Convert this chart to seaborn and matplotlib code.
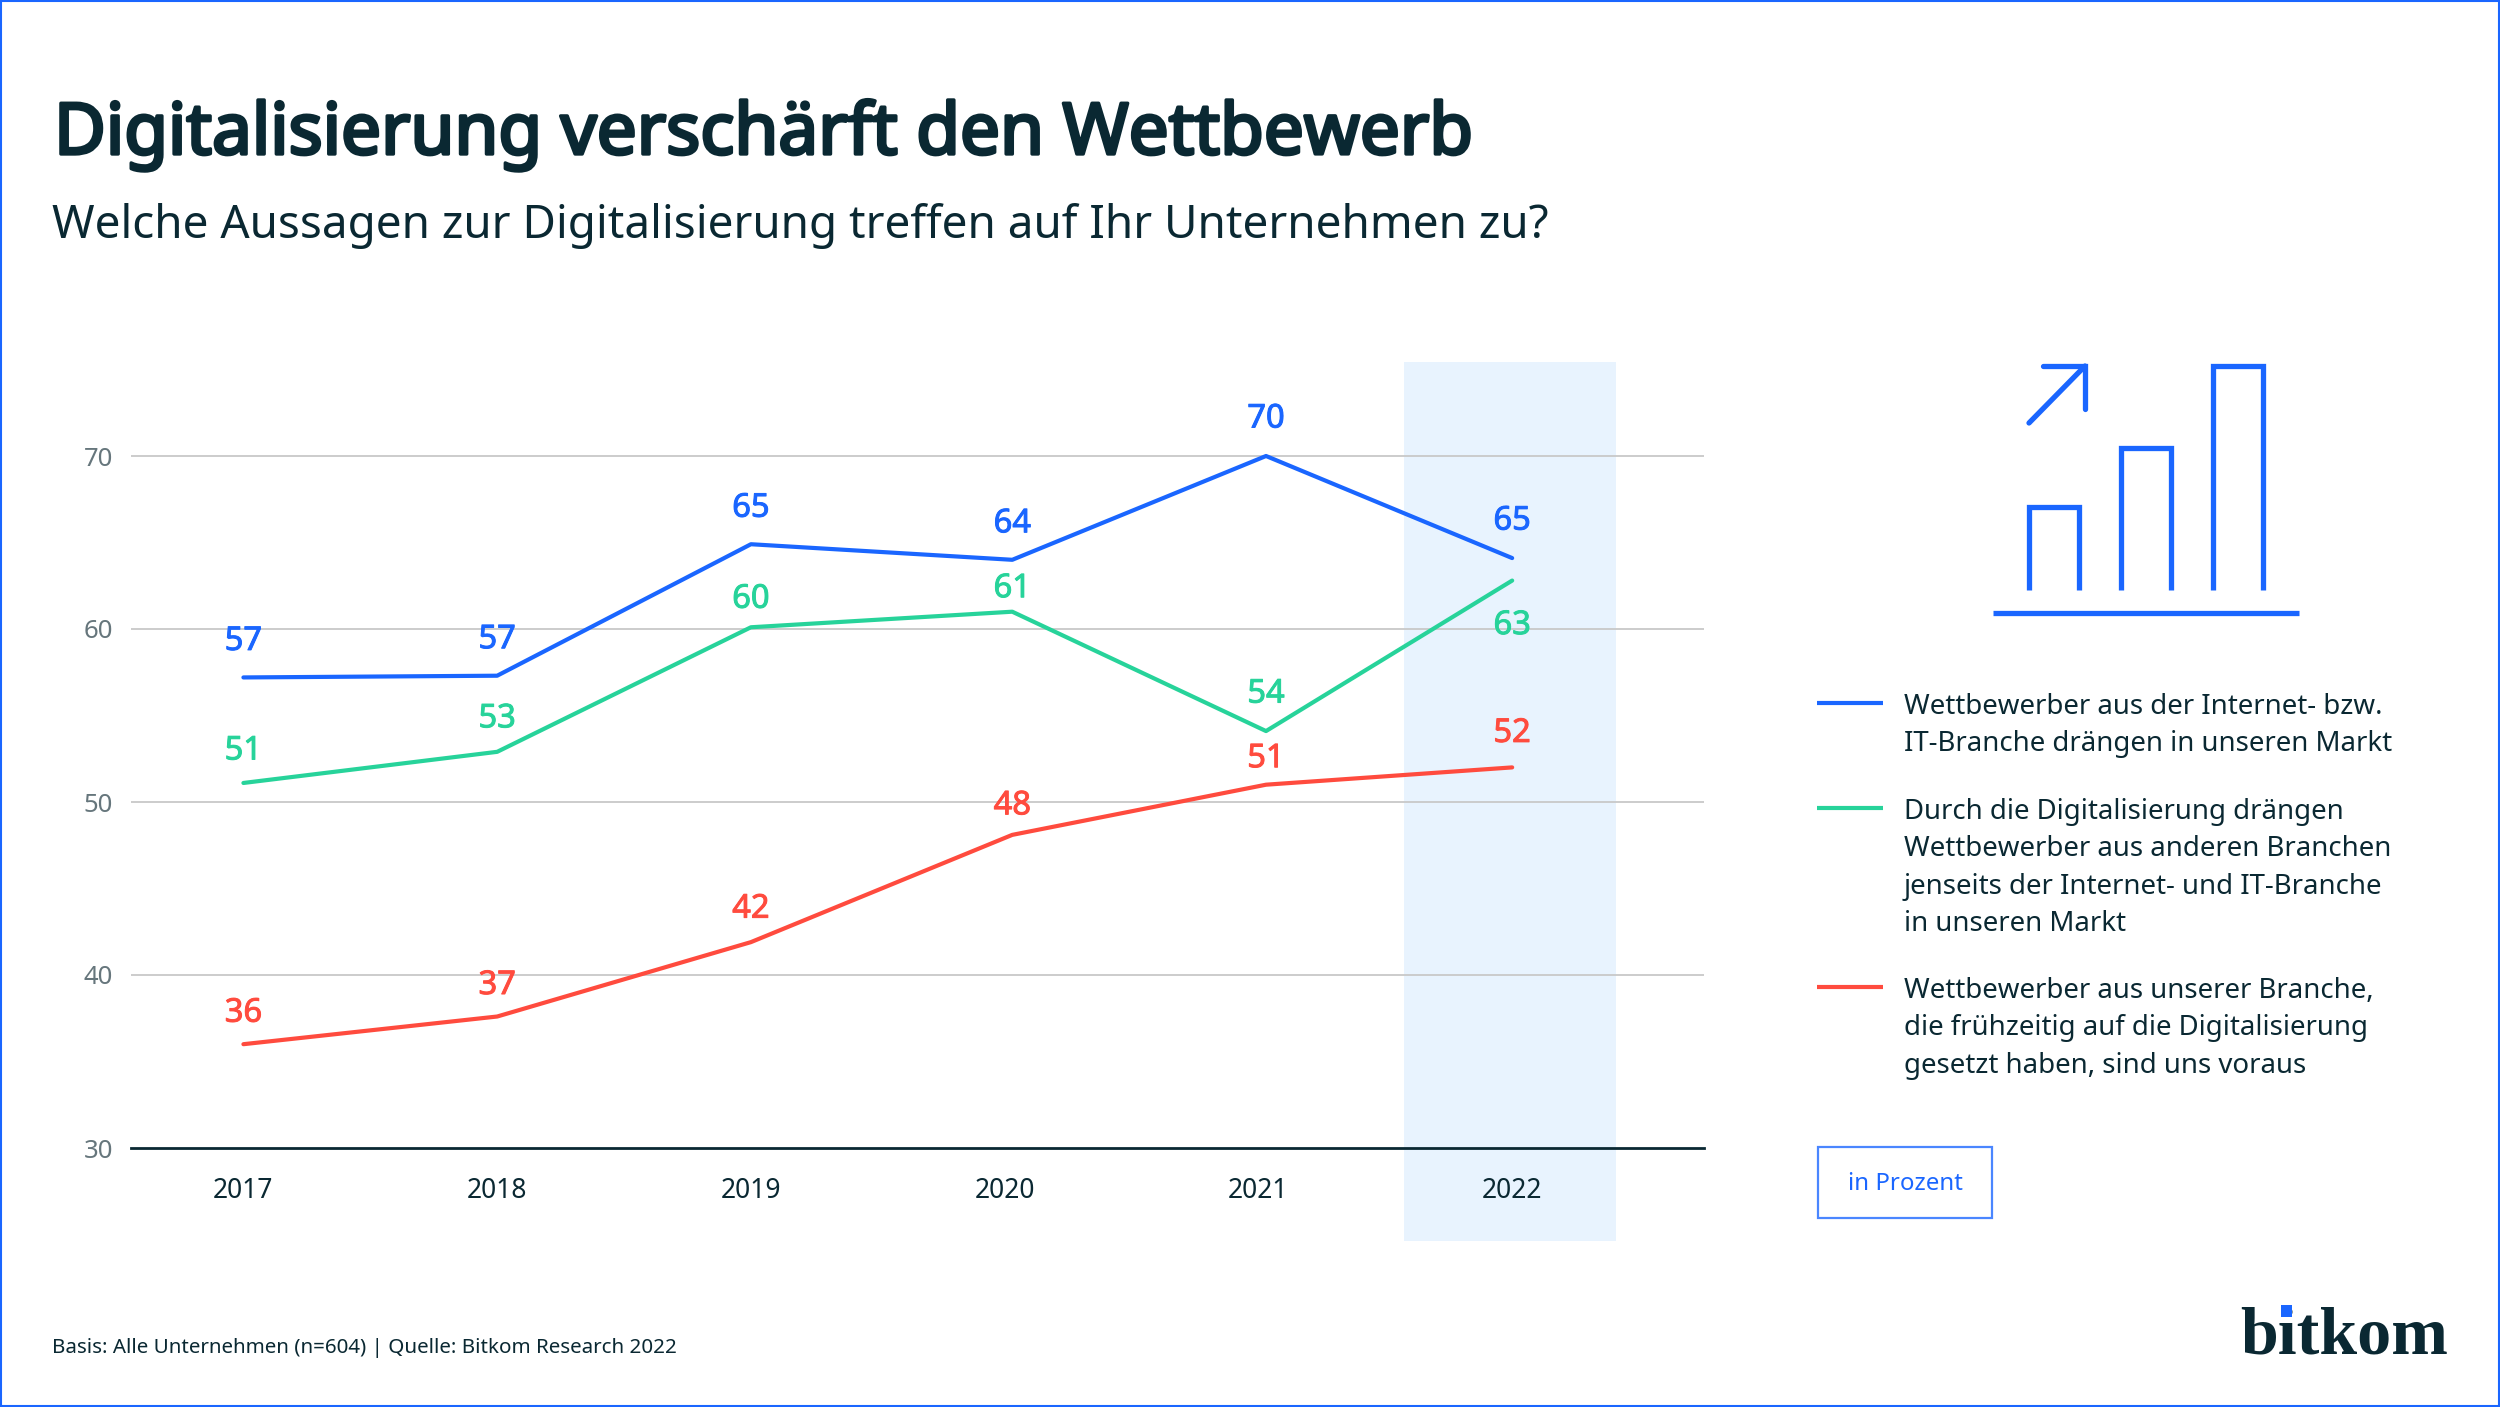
import pandas as pd
import matplotlib.pyplot as plt
import matplotlib.patches as mpatches
import matplotlib.patheffects as pe
import seaborn as sns

years = ["2017", "2018", "2019", "2020", "2021", "2022"]
# the 2020 and 2021 points sit slightly right of their tick labels in the original
point_x = [0, 1, 2, 3.03, 4.03, 5]
internet = [57.2, 57.3, 64.9, 64.0, 70.0, 64.1]
branchen = [51.1, 52.9, 60.1, 61.0, 54.1, 62.8]
voraus = [36.0, 37.6, 41.9, 48.1, 51.0, 52.0]
internet_labels = [57, 57, 65, 64, 70, 65]
branchen_labels = [51, 53, 60, 61, 54, 63]
voraus_labels = [36, 37, 42, 48, 51, 52]
y_ticks = [30, 40, 50, 60, 70]

legend_internet = "Wettbewerber aus der Internet- bzw.\nIT-Branche drängen in unseren Markt"
legend_branchen = ("Durch die Digitalisierung drängen\nWettbewerber aus anderen Branchen\n"
                   "jenseits der Internet- und IT-Branche\nin unseren Markt")
legend_voraus = ("Wettbewerber aus unserer Branche,\ndie frühzeitig auf die Digitalisierung\n"
                 "gesetzt haben, sind uns voraus")

BLUE = "#1a66ff"
GREEN = "#27d39a"
RED = "#ff4b3e"
DARK = "#0a2832"
W, H = 2500, 1407

sns.set_theme(style="white")
plt.rcParams["font.family"] = ["Noto Sans", "DejaVu Sans"]

# long table for seaborn
df = pd.DataFrame({
    "year": point_x * 3,
    "value": internet + branchen + voraus,
    "series": ["internet"] * 6 + ["branchen"] * 6 + ["voraus"] * 6,
})
palette = {"internet": BLUE, "branchen": GREEN, "voraus": RED}

fig = plt.figure(figsize=(W / 100, H / 100), dpi=100, facecolor="white")

# plot area: x 131-1704 px, y 456 (70) to 1148 (30)
ax = fig.add_axes([131 / W, 1 - 1148 / H, (1704 - 131) / W, (1148 - 362) / H])
ax.set_facecolor("none")
ax.set_ylim(30, 30 + 40 * (1148 - 362) / (1148 - 456))
ax.set_xlim(-0.443, 5.756)

# highlight behind 2022, runs past the axis down to 1240 px
ax.axvspan(4.575, 5.41, ymin=-0.118, ymax=1, color="#e8f3fe", lw=0, zorder=0, clip_on=False)

for t in y_ticks[1:]:
    ax.axhline(t, color="#c8c8c8", lw=1.3, zorder=1)

sns.lineplot(data=df, x="year", y="value", hue="series", palette=palette,
             linewidth=3.0, legend=False, ax=ax, zorder=3, errorbar=None)

# value labels, offset in px from the line
for vals, labs, color, offs in [
    (internet, internet_labels, BLUE, [36, 36, 36, 36, 37, 37]),
    (branchen, branchen_labels, GREEN, [32, 33, 28, 23, 37, -45]),
    (voraus, voraus_labels, RED, [31, 31, 33, 29, 26, 34]),
]:
    for px, v, lab, off in zip(point_x, vals, labs, offs):
        ax.annotate(str(lab), (px, v), xytext=(0, off * 0.72), textcoords="offset points",
                    ha="center", va="center", fontsize=23.5, color=color, zorder=4,
                    path_effects=[pe.withStroke(linewidth=0.7, foreground=color)])

sns.despine(ax=ax, left=True, top=True, right=True)
ax.spines["bottom"].set_color(DARK)
ax.spines["bottom"].set_linewidth(2)
ax.set_xticks(range(len(years)))
ax.set_xticklabels(years, fontsize=19, color=DARK)
ax.set_yticks(y_ticks)
ax.set_yticklabels([str(t) for t in y_ticks], fontsize=18.5, color="#66767c")
ax.tick_params(axis="both", length=0)
ax.tick_params(axis="x", pad=21)
ax.tick_params(axis="y", pad=13)
ax.set_xlabel("")
ax.set_ylabel("")

# overlay in pixel coordinates for everything around the chart
ov = fig.add_axes([0, 0, 1, 1], zorder=5)
ov.set_xlim(0, W)
ov.set_ylim(H, 0)
ov.axis("off")

ov.add_patch(mpatches.Rectangle((1, 1), W - 2, H - 2, fill=False, ec=BLUE, lw=1.5))

# Noto Sans has no bold cut here, so the title gets a stroke
ov.text(54, 135, "Digitalisierung verschärft den Wettbewerb", fontsize=51.2,
        color=DARK, va="center", ha="left",
        path_effects=[pe.withStroke(linewidth=2.4, foreground=DARK)])
ov.text(52, 226, "Welche Aussagen zur Digitalisierung treffen auf Ihr Unternehmen zu?", fontsize=33,
        color=DARK, va="center", ha="left")
ov.text(52, 1348, "Basis: Alle Unternehmen (n=604) | Quelle: Bitkom Research 2022", fontsize=14.8,
        color=DARK, va="center", ha="left")

# legend
for y, color, label in [(703, BLUE, legend_internet), (808, GREEN, legend_branchen), (987, RED, legend_voraus)]:
    ov.plot([1817, 1883], [y, y], color=color, lw=3.0, solid_capstyle="butt")
    ov.text(1904, y - 10, label, fontsize=19.9, color=DARK, va="top", ha="left", linespacing=1.45)

# unit box
ov.add_patch(mpatches.Rectangle((1818, 1147), 174, 71, fill=False, ec="#4a86ff", lw=1.6))
ov.text(1905, 1184, "in Prozent", fontsize=17.3, color=BLUE, va="center", ha="center")

# icon
icon_lw = 3.8
for x0, x1, top in [(2029, 2079, 507), (2121, 2171, 448), (2213, 2263, 366)]:
    ov.plot([x0, x0, x1, x1], [590, top, top, 590], color=BLUE, lw=icon_lw,
            solid_joinstyle="miter", solid_capstyle="butt")
ov.plot([1993, 2299], [613, 613], color=BLUE, lw=icon_lw, solid_capstyle="butt")
ov.plot([2029, 2085], [423, 366], color=BLUE, lw=icon_lw, solid_capstyle="round")
ov.plot([2043, 2085, 2085], [366, 366, 409], color=BLUE, lw=icon_lw, solid_capstyle="round",
        solid_joinstyle="miter")

# logo
ov.text(2240, 1354, "bitkom", fontsize=49, fontweight="bold", family="Liberation Serif", color=DARK,
        va="baseline", ha="left")
ov.add_patch(mpatches.Rectangle((2281, 1305), 11, 12, fc=BLUE, ec="none", zorder=6))

fig.savefig("out.png", dpi=100)
